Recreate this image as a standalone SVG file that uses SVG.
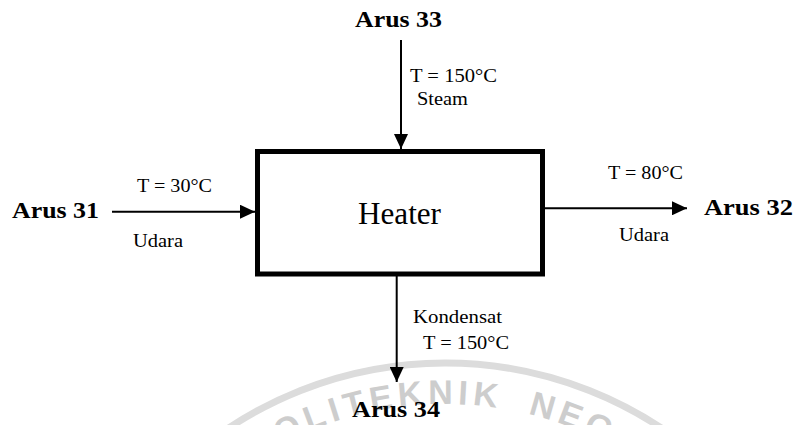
<svg xmlns="http://www.w3.org/2000/svg" width="798" height="425" viewBox="0 0 798 425">
<style>
.lbl{font-family:'Liberation Serif','Times New Roman',serif;font-size:19px;fill:#000}
.arus{font-family:'Liberation Serif','Times New Roman',serif;font-size:24px;font-weight:700;fill:#000}
.ttl{font-family:'Liberation Serif','Times New Roman',serif;font-size:31px;fill:#000}
.flow{stroke:#000;stroke-width:2;fill:none}
.wm{font-family:'Liberation Sans',Arial,sans-serif;font-size:34px;font-weight:700;fill:#cdcdcd}
</style>
<defs>
<marker id="ah" viewBox="0 0 15 14" refX="15" refY="7" markerWidth="15" markerHeight="14" markerUnits="userSpaceOnUse" orient="auto">
<path d="M0,0 L15,7 L0,14 Z" fill="#000"/>
</marker>
<path id="wmArc" d="M 94,755 A 351 351 0 0 1 796,755"/>
</defs>
<rect width="798" height="425" fill="#fff"/>
<g id="watermark">
<path d="M 53,755 A 392 392 0 0 1 837,755" fill="none" stroke="#dcdcdc" stroke-width="7"/>
<text class="wm" letter-spacing="5" word-spacing="12"><textPath href="#wmArc" startOffset="352">POLITEKNIK NEGERI</textPath></text>
</g>
<g id="connectors">
<line class="flow" x1="401" y1="40" x2="401" y2="149" marker-end="url(#ah)"/>
<line class="flow" x1="112" y1="211.7" x2="255" y2="211.7" marker-end="url(#ah)"/>
<line class="flow" x1="545" y1="208.3" x2="687" y2="208.3" marker-end="url(#ah)"/>
<line class="flow" x1="396.7" y1="276" x2="396.7" y2="382" marker-end="url(#ah)"/>
</g>
<g id="heater">
<rect x="257.5" y="151.5" width="285" height="122.5" fill="none" stroke="#000" stroke-width="5"/>
<text class="ttl" x="358" y="224" textLength="83" lengthAdjust="spacingAndGlyphs">Heater</text>
</g>
<g id="arus33">
<text class="arus" x="355" y="27" textLength="87" lengthAdjust="spacingAndGlyphs">Arus 33</text>
<text class="lbl" x="410" y="82" textLength="87" lengthAdjust="spacingAndGlyphs">T = 150°C</text>
<text class="lbl" x="417" y="105" textLength="51" lengthAdjust="spacingAndGlyphs">Steam</text>
</g>
<g id="arus31">
<text class="arus" x="12" y="218" textLength="87" lengthAdjust="spacingAndGlyphs">Arus 31</text>
<text class="lbl" x="137" y="192" textLength="75" lengthAdjust="spacingAndGlyphs">T = 30°C</text>
<text class="lbl" x="133" y="247" textLength="50" lengthAdjust="spacingAndGlyphs">Udara</text>
</g>
<g id="arus32">
<text class="arus" x="704" y="215" textLength="89" lengthAdjust="spacingAndGlyphs">Arus 32</text>
<text class="lbl" x="608" y="179" textLength="75" lengthAdjust="spacingAndGlyphs">T = 80°C</text>
<text class="lbl" x="619" y="241" textLength="50" lengthAdjust="spacingAndGlyphs">Udara</text>
</g>
<g id="arus34">
<text class="lbl" x="413" y="323" textLength="89" lengthAdjust="spacingAndGlyphs">Kondensat</text>
<text class="lbl" x="423" y="349" textLength="86" lengthAdjust="spacingAndGlyphs">T = 150°C</text>
<text class="arus" x="352" y="417" textLength="88" lengthAdjust="spacingAndGlyphs">Arus 34</text>
</g>
</svg>
